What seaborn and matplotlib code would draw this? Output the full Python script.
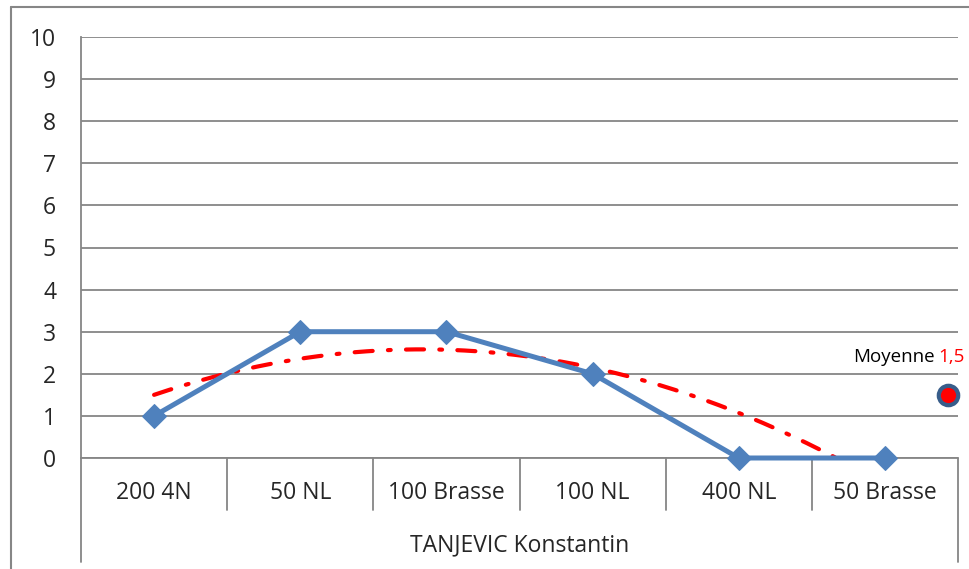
import matplotlib
matplotlib.use('Agg')
import matplotlib.pyplot as plt
import numpy as np
import pandas as pd
import seaborn as sns
from matplotlib.lines import Line2D

# données
epreuves = ['200 4N', '50 NL', '100 Brasse', '100 NL', '400 NL', '50 Brasse']
notes = [1, 3, 3, 2, 0, 0]
nageur = 'TANJEVIC Konstantin'
y_ticks = list(range(0, 11))

sns.set_style('white')
plt.rcParams['font.family'] = ['Open Sans', 'DejaVu Sans']
plt.rcParams['lines.scale_dashes'] = False

BLEU = '#4F81BD'
GRIS = '#868686'
FS = 16.5

W, H = 969, 569
fig = plt.figure(figsize=(W / 100, H / 100), dpi=100)
ax = fig.add_axes([81 / W, 1 - 458 / H, (958 - 81) / W, (458 - 37) / H])

df = pd.DataFrame({'x': np.arange(len(epreuves)), 'note': notes})

# courbe de tendance polynomiale (ordre 2), comme dans Excel
coef = np.polyfit(df['x'], df['note'], 2)
xs = np.linspace(0, len(epreuves) - 1, 300)
ax.plot(xs, np.polyval(coef, xs), color='red', lw=3.0,
        dashes=(13, 11, 2, 11), solid_capstyle='round', dash_capstyle='round', zorder=3)

sns.lineplot(data=df, x='x', y='note', ax=ax, color=BLEU, lw=3.6,
             marker='D', markersize=12, markeredgecolor=BLEU, zorder=4)
for ln in ax.lines[1:]:
    ln.set_clip_on(False)

ax.set_xlim(-0.5, len(epreuves) - 0.5)
ax.set_ylim(0, 10)
ax.set_yticks(y_ticks)
ax.yaxis.grid(True, color=GRIS, lw=1.3)
ax.set_axisbelow(True)
for s in ['top', 'right', 'bottom']:
    ax.spines[s].set_visible(False)
ax.spines['left'].set_color(GRIS)
ax.spines['left'].set_linewidth(1.3)
ax.tick_params(axis='y', length=8, width=1.3, color=GRIS, labelsize=FS, pad=10)
ax.set_xticks([])
ax.set_xlabel('')
ax.set_ylabel('')

# axe des catégories à deux niveaux
trans = ax.get_xaxis_transform()
def px(y):
    return -(y - 458) / (458 - 37)

ax.add_line(Line2D([-0.5, len(epreuves) - 0.5], [0, 0], transform=trans,
                   color=GRIS, lw=1.3, clip_on=False, zorder=2))
for i in range(1, len(epreuves)):
    ax.add_line(Line2D([i - 0.5, i - 0.5], [0, px(510)], transform=trans,
                       color=GRIS, lw=1.3, clip_on=False))
for xe in [-0.5, len(epreuves) - 0.5]:
    ax.add_line(Line2D([xe, xe], [0, px(562)], transform=trans,
                       color=GRIS, lw=1.3, clip_on=False))
for i, e in enumerate(epreuves):
    ax.text(i, px(493), e, transform=trans, ha='center', va='center', fontsize=FS)
ax.text((len(epreuves) - 1) / 2, px(545), nageur, transform=trans,
        ha='center', va='center', fontsize=FS)

# moyenne
moyenne = np.mean(notes)
ax.plot([5.43], [moyenne], marker='o', markersize=14, markerfacecolor='red',
        markeredgecolor='#385D8A', markeredgewidth=3, clip_on=False, zorder=5)
txt = f'{moyenne:.1f}'.replace('.', ',')
t1 = fig.text(965 / W, 1 - 357 / H, txt, color='red', ha='right', va='center', fontsize=13.5)
fig.canvas.draw()
bb = t1.get_window_extent()
fig.text(bb.x0 / W - 4 / W, 1 - 357 / H, 'Moyenne', color='black', ha='right',
         va='center', fontsize=13.5)

# cadre extérieur du graphique
fig.add_artist(Line2D([11 / W, 11 / W], [0, 1 - 7 / H], color=GRIS, lw=1.5))
fig.add_artist(Line2D([11 / W, 1], [1 - 7 / H, 1 - 7 / H], color=GRIS, lw=1.5))

fig.savefig('out.png', dpi=100)
